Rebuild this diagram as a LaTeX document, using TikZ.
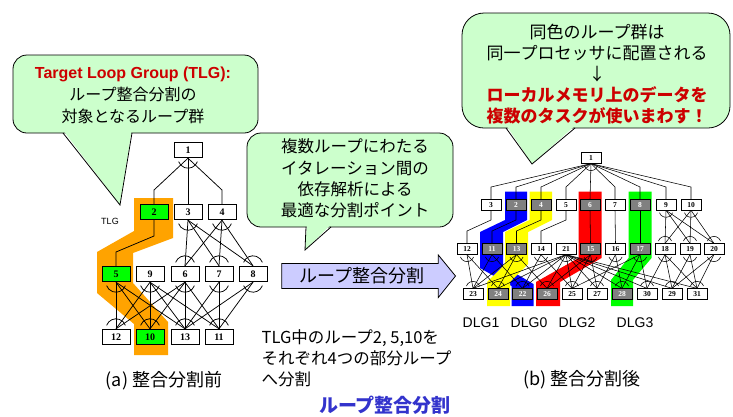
\documentclass[tikz,border=0pt]{standalone}
\usepackage{fontspec}
\setmainfont{Liberation Sans}
\newfontfamily\jp{Noto Sans CJK JP}
\newfontfamily\numfont{Liberation Serif}
\usetikzlibrary{calc}
\definecolor{bubblegreen}{RGB}{204,255,204}
\definecolor{tlgorange}{RGB}{255,163,0}
\definecolor{brightgreen}{RGB}{0,255,0}
\definecolor{nodegray}{RGB}{128,128,128}
\definecolor{arrowfill}{RGB}{204,204,255}
\definecolor{titlered}{RGB}{204,0,0}
\definecolor{capblue}{RGB}{51,51,204}
\definecolor{hlblue}{RGB}{0,0,255}
\definecolor{hlyellow}{RGB}{255,255,0}
\definecolor{hlred}{RGB}{255,0,0}
\pgfdeclarelayer{bgzero}
\pgfdeclarelayer{bgone}
\pgfsetlayers{bgzero,bgone,main}
\tikzset{
 lnode/.style={draw, line width=0.9pt, fill=white, minimum width=28pt, minimum height=15.5pt, inner sep=0pt, font=\numfont\bfseries\fontsize{10}{10}\selectfont},
 lgrn/.style={lnode, fill=brightgreen},
 rnode/.style={draw, line width=0.7pt, fill=white, minimum width=20pt, minimum height=10.5pt, inner sep=0pt, font=\numfont\bfseries\fontsize{7.5}{7.5}\selectfont},
 rgry/.style={rnode, fill=nodegray, text=white},
 ledge/.style={line width=0.75pt},
 redge/.style={line width=0.55pt},
 bubble/.style={draw=black, line width=0.8pt, fill=bubblegreen, rounded corners=14pt},
 ptrline/.style={line width=0.8pt},
}
\newcommand\fanbot[3]{\draw[#2] (#1.south) ++(20:#3) arc[start angle=20,end angle=160,radius=#3];}
\newcommand\fantop[3]{\draw[#2] (#1.north) ++(200:#3) arc[start angle=200,end angle=340,radius=#3];}
\begin{document}
\begin{tikzpicture}[x=1pt,y=-1pt]
\useasboundingbox (0,0) rectangle (733,416);

% ---------- left graph nodes ----------
\node[lnode] (L1) at (188,150) {1};
\node[lgrn] (L2) at (154,212) {2};
\node[lnode] (L3) at (188,212) {3};
\node[lnode] (L4) at (222,212) {4};
\node[lgrn] (L5) at (116,274) {5};
\node[lnode] (L9) at (150,274) {9};
\node[lnode] (L6) at (185,274) {6};
\node[lnode] (L7) at (219,274) {7};
\node[lnode] (L8) at (253,274) {8};
\node[lnode] (L12) at (116,337) {12};
\node[lgrn] (L10) at (150,337) {10};
\node[lnode] (L13) at (185,337) {13};
\node[lnode] (L11) at (219,337) {11};
\node[font=\fontsize{9}{9}\selectfont] (tlg) at (110,221) {TLG};

\begin{pgfonlayer}{bgzero}
\fill[tlgorange] (134,198) -- (173,198) -- (173,238) -- (133,253) -- (133,283) -- (168,322) -- (168,355) -- (134,355) -- (134,324) -- (97,293) -- (97,252) -- (134,231) -- cycle;
\end{pgfonlayer}

\begin{pgfonlayer}{bgone}
\draw[ledge] (L1.south) -- (L2.north |- 0,190) -- (L2.north);
\draw[ledge] (L1.south) -- (L3.north);
\draw[ledge] (L1.south) -- (L4.north |- 0,190) -- (L4.north);
\draw[ledge] (L2.south) -- (L2.south |- 0,236) -- (L5.north |- 0,252) -- (L5.north);
\foreach \s in {L3,L4} \foreach \t in {L6,L7,L8} \draw[ledge] (\s.south) -- (\t.north);
\foreach \s/\ts in {L5/{L12,L10,L13}, L9/{L12,L10,L13,L11}, L6/{L12,L10,L13,L11}, L7/{L13,L11}, L8/{L13,L11}}
  \foreach \t in \ts \draw[ledge] (\s.south) -- (\t.north);
\foreach \n in {L1,L3,L4,L5,L9,L6,L7,L8} {\fanbot{\n}{ledge}{10}}
\foreach \n in {L6,L7,L8,L12,L10,L13,L11} {\fantop{\n}{ledge}{10}}
\end{pgfonlayer}

% ---------- right graph nodes ----------
\node[rnode] (R1) at (591,158) {1};
\node[rnode] (R3) at (491,204.7) {3};
\node[rgry] (R2) at (516,204.7) {2};
\node[rgry] (R4) at (541,204.7) {4};
\node[rnode] (R5) at (566,204.7) {5};
\node[rgry] (R6) at (590,204.7) {6};
\node[rnode] (R7) at (615,204.7) {7};
\node[rgry] (R8) at (640,204.7) {8};
\node[rnode] (R9) at (666,204.7) {9};
\node[rnode] (R10) at (691,204.7) {10};
\node[rnode] (R12) at (467,249) {12};
\node[rgry] (R11) at (492,249) {11};
\node[rgry] (R13) at (516.5,249) {13};
\node[rnode] (R14) at (541,249) {14};
\node[rnode] (R21) at (566,249) {21};
\node[rgry] (R15) at (590.5,249) {15};
\node[rnode] (R16) at (615.5,249) {16};
\node[rgry] (R17) at (640,249) {17};
\node[rnode] (R18) at (665,249) {18};
\node[rnode] (R19) at (690,249) {19};
\node[rnode] (R20) at (714,249) {20};
\node[rnode] (R23) at (473,294) {23};
\node[rgry] (R24) at (498,294) {24};
\node[rgry] (R22) at (522.5,294) {22};
\node[rgry] (R26) at (547,294) {26};
\node[rnode] (R25) at (572,294) {25};
\node[rnode] (R27) at (597,294) {27};
\node[rgry] (R28) at (622,294) {28};
\node[rnode] (R30) at (647,294) {30};
\node[rnode] (R29) at (672,294) {29};
\node[rnode] (R31) at (697,294) {31};

\begin{pgfonlayer}{bgzero}
\fill[hlblue] (505,191.5) -- (527,191.5) -- (527,220) -- (503,232) -- (503,266) -- (533.5,284) -- (533.5,306) -- (511.5,306) -- (511.5,286) -- (480,268) -- (480,232) -- (505,220) -- cycle;
\fill[hlyellow] (529.5,191.5) -- (552,191.5) -- (552,220) -- (528,232) -- (528,264) -- (510,282) -- (510,306) -- (487,306) -- (487,282) -- (505,264) -- (505,232) -- (529.5,220) -- cycle;
\fill[hlred] (578.5,191.5) -- (601.5,191.5) -- (601.5,258) -- (560,282) -- (560,306) -- (536,306) -- (536,282) -- (578.5,258) -- cycle;
\fill[brightgreen] (628.5,191.5) -- (651.5,191.5) -- (651.5,258) -- (633,280) -- (633,306) -- (611,306) -- (611,280) -- (628.5,258) -- cycle;
\end{pgfonlayer}

\begin{pgfonlayer}{bgone}
\foreach \t in {R3,R2,R4,R5,R7,R8,R9,R10} \draw[redge] (R1.south) -- (\t.north |- 0,187) -- (\t.north);
\draw[redge] (R1.south) -- (R6.north);
\foreach \s/\t in {R3/R12,R2/R11,R4/R13,R5/R14}
  \draw[redge] (\s.south) -- (\s.south |- 0,220) -- (\t.north |- 0,231) -- (\t.north);
\foreach \s/\t in {R6/R15,R7/R16,R8/R17} \draw[redge] (\s.south) -- (\t.north);
\foreach \s in {R9,R10} \foreach \t in {R18,R19,R20} \draw[redge] (\s.south) -- (\t.north);
\foreach \s/\ts in {R12/{R23,R24}, R11/{R23,R22}, R13/{R23,R24,R26}, R14/{R22,R25},
  R21/{R23,R24,R22,R26,R25,R27,R28,R30,R29,R31}, R15/{R26,R25,R27}, R16/{R27,R28},
  R17/{R28,R25,R30}, R18/{R30,R29,R31}, R19/{R29,R31}, R20/{R29,R31}}
  \foreach \t in \ts \draw[redge] (\s.south) -- (\t.north);
\foreach \n in {R1,R9,R10,R12,R11,R13,R14,R21,R15,R16,R17,R18,R19,R20} {\fanbot{\n}{redge}{7}}
\foreach \n in {R18,R19,R20,R23,R24,R22,R26,R25,R27,R28,R30,R29,R31} {\fantop{\n}{redge}{7}}
\end{pgfonlayer}

\node[font=\fontsize{14}{14}\selectfont] (dlg1) at (481,323) {DLG1};
\node[font=\fontsize{14}{14}\selectfont] (dlg0) at (529,323) {DLG0};
\node[font=\fontsize{14}{14}\selectfont] (dlg2) at (577,323) {DLG2};
\node[font=\fontsize{14}{14}\selectfont] (dlg3) at (635,323) {DLG3};

% ---------- callout 1 ----------
\node[bubble, minimum width=245pt, minimum height=78pt] (C1) at (135.5,94) {};
\fill[bubblegreen] (64,131.5) -- (131.5,131.5) -- (120,205) -- cycle;
\draw[ptrline] (63,133) -- (120,205) -- (132,133);
\node[align=center, font=\fontsize{16}{22}\selectfont] (C1t) at (133,95)
 {{\bfseries\color{titlered}Target Loop Group (TLG):}\\{\jp ループ整合分割の}\\{\jp 対象となるループ群}};

% ---------- callout 2 ----------
\node[bubble, minimum width=206pt, minimum height=94pt] (C2) at (350,180) {};
\fill[bubblegreen] (307,225.5) -- (330,225.5) -- (305,250) -- cycle;
\draw[ptrline] (306,227) -- (305,250) -- (331,227);
\node[align=center, font=\jp\fontsize{16.5}{21.1}\selectfont] (C2t) at (355,178.4)
 {複数ループにわたる\\イタレーション間の\\依存解析による\\最適な分割ポイント};

% ---------- callout 3 ----------
\node[bubble, rounded corners=22pt, minimum width=268pt, minimum height=115pt] (C3) at (596,70.5) {};
\fill[bubblegreen] (507,126.5) -- (574,126.5) -- (532,164) -- cycle;
\draw[ptrline] (506,128) -- (532,164) -- (575,128);
\node[align=center, font=\jp\fontsize{17}{21.2}\selectfont] (C3t) at (597,74.2)
 {同色のループ群は\\同一プロセッサに配置される\\↓\\{\bfseries\color{titlered}ローカルメモリ上のデータを}\\{\bfseries\color{titlered}複数のタスクが使いまわす！}};

% ---------- big arrow ----------
\draw[line width=0.8pt, fill=arrowfill] (281.7,263.5) -- (438.3,263.5) -- (438.3,255) -- (455.5,276) -- (438.3,297.5) -- (438.3,288.5) -- (281.7,288.5) -- cycle;
\node[font=\jp\fontsize{18}{18}\selectfont] (arrt) at (362,276) {ループ整合分割};

% ---------- texts ----------
\node[anchor=west, align=left, inner sep=0pt, font=\jp\fontsize{16.5}{21}\selectfont] (note) at (261.5,358.5)
 {TLG中のループ2, 5,10を\\それぞれ4つの部分ループ\\へ分割};
\node[font=\jp\bfseries\fontsize{19}{19}\selectfont, text=capblue] (cap) at (385,405) {ループ整合分割};
\node[font=\jp\fontsize{18}{18}\selectfont] (capa) at (164,381) {(a) 整合分割前};
\node[font=\jp\fontsize{18}{18}\selectfont] (capb) at (582,380) {(b) 整合分割後};
\end{tikzpicture}
\end{document}
